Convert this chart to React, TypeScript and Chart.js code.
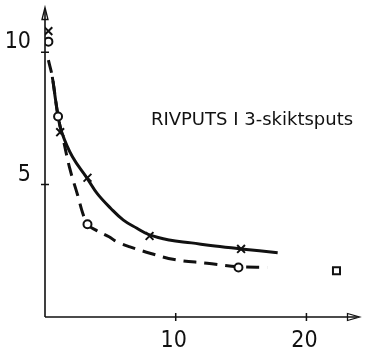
import React, { useEffect, useRef } from "react";
import { Chart, registerables } from "chart.js";

Chart.register(...registerables);

const xTicks = [10, 20];
const yTicks = [5, 10];

const solidX = [0.56, 1.0, 1.3, 2.1, 3.25, 4.0, 5.04, 6.0, 7.0, 8.0, 9.5, 11.2, 13.0, 15.0, 17.8];
const solidY = [9.07, 7.6, 6.95, 6.05, 5.22, 4.66, 4.1, 3.66, 3.36, 3.1, 2.91, 2.8, 2.68, 2.57, 2.43];

const dashX = [0.26, 0.56, 1.0, 1.4, 1.9, 2.5, 2.9, 3.25, 3.9, 4.9, 5.5, 6.5, 8.1, 9.9, 12.4, 14.8, 17.0];
const dashY = [9.7, 9.07, 7.57, 6.7, 5.6, 4.6, 3.9, 3.5, 3.28, 3.03, 2.84, 2.65, 2.4, 2.17, 2.03, 1.9, 1.87];

const crossX = [0.26, 1.16, 3.25, 8.0, 15.0];
const crossY = [10.8, 6.98, 5.26, 3.06, 2.57];

const circleX = [0.26, 1.0, 3.25, 14.8];
const circleY = [10.4, 7.57, 3.5, 1.87];

const squareX = [22.3];
const squareY = [1.75];

const label = "RIVPUTS I 3-skiktsputs";
const labelX = 8.1;
const labelY = 7.25;

const INK = "#111";

const zip = (xs: number[], ys: number[]) => xs.map((x, i) => ({ x, y: ys[i] }));

const axesPlugin = {
  id: "handAxes",
  afterDraw(chart: any) {
    const { ctx, chartArea } = chart;
    const xs = chart.scales.x;
    const ys = chart.scales.y;
    const ox = chartArea.left;
    const oy = chartArea.bottom;
    ctx.save();
    ctx.strokeStyle = INK;
    ctx.lineWidth = 1.6;
    ctx.beginPath();
    ctx.moveTo(ox, oy);
    ctx.lineTo(chartArea.right - 2, oy);
    ctx.moveTo(ox, oy);
    ctx.lineTo(ox, chartArea.top + 2);
    ctx.stroke();
    // arrows
    ctx.lineWidth = 1.3;
    ctx.beginPath();
    ctx.moveTo(chartArea.right - 12, oy - 3.5);
    ctx.lineTo(chartArea.right, oy);
    ctx.lineTo(chartArea.right - 12, oy + 3.5);
    ctx.closePath();
    ctx.stroke();
    ctx.beginPath();
    ctx.moveTo(ox - 3, chartArea.top + 12);
    ctx.lineTo(ox, chartArea.top);
    ctx.lineTo(ox + 3, chartArea.top + 12);
    ctx.closePath();
    ctx.stroke();
    // tick marks
    ctx.lineWidth = 1.5;
    ctx.beginPath();
    xTicks.forEach((v) => {
      const p = xs.getPixelForValue(v);
      ctx.moveTo(p, oy - 4);
      ctx.lineTo(p, oy + 4);
    });
    yTicks.forEach((v) => {
      const p = ys.getPixelForValue(v);
      ctx.moveTo(ox - 4, p);
      ctx.lineTo(ox + 4, p);
    });
    ctx.stroke();
    // annotation text
    ctx.fillStyle = INK;
    ctx.font = '18px "DejaVu Sans", sans-serif';
    ctx.textAlign = "left";
    ctx.textBaseline = "alphabetic";
    ctx.fillText(label, xs.getPixelForValue(labelX), ys.getPixelForValue(labelY), 204);
    ctx.restore();
  },
};

export default function App() {
  const ref = useRef<HTMLCanvasElement | null>(null);
  useEffect(() => {
    if (!ref.current) return;
    const tickFont = { family: '"DejaVu Sans Condensed", sans-serif', size: 23 };
    const chart = new Chart(ref.current, {
      type: "scatter",
      data: {
        datasets: [
          {
            label: "square",
            data: zip(squareX, squareY),
            pointStyle: "rect",
            pointRadius: 5,
            borderColor: INK,
            backgroundColor: "#fff",
            borderWidth: 2,
            showLine: false,
          },
          {
            label: "circles",
            data: zip(circleX, circleY),
            pointStyle: "circle",
            pointRadius: 4,
            borderColor: INK,
            backgroundColor: "#fff",
            borderWidth: 2,
            showLine: false,
          },
          {
            label: "crosses",
            data: zip(crossX, crossY),
            pointStyle: "crossRot",
            pointRadius: 5.5,
            borderColor: INK,
            backgroundColor: INK,
            borderWidth: 2,
            showLine: false,
          },
          {
            label: "solid",
            data: zip(solidX, solidY),
            showLine: true,
            pointRadius: 0,
            borderColor: INK,
            borderWidth: 3,
            tension: 0.4,
            fill: false,
          },
          {
            label: "dashed",
            data: zip(dashX, dashY),
            showLine: true,
            pointRadius: 0,
            borderColor: INK,
            borderWidth: 3,
            borderDash: [13, 8],
            tension: 0.4,
            fill: false,
          },
        ],
      } as any,
      options: {
        animation: false,
        responsive: false,
        events: [],
        layout: { padding: { left: 0, right: 2, top: 5, bottom: 0 } },
        plugins: { legend: { display: false }, tooltip: { enabled: false }, title: { display: false } },
        scales: {
          x: {
            type: "linear",
            min: 0,
            max: 24.06,
            grid: { display: false, drawTicks: false },
            border: { display: false },
            afterBuildTicks: (s: any) => {
              s.ticks = xTicks.map((value) => ({ value }));
            },
            afterFit: (s: any) => {
              s.height = 38;
              s.paddingLeft = 0;
              s.paddingRight = 0;
            },
            ticks: { color: INK, font: tickFont, padding: 10, maxRotation: 0, labelOffset: -2 },
          },
          y: {
            type: "linear",
            min: 0,
            max: 11.69,
            grid: { display: false, drawTicks: false },
            border: { display: false },
            afterBuildTicks: (s: any) => {
              s.ticks = yTicks.map((value) => ({ value }));
            },
            afterFit: (s: any) => {
              s.width = 45;
              s.paddingTop = 0;
              s.paddingBottom = 0;
            },
            ticks: { color: INK, font: tickFont, padding: 14, labelOffset: -10 },
          },
        },
      } as any,
      plugins: [axesPlugin],
    });
    return () => chart.destroy();
  }, []);
  return (
    <div style={{ position: "fixed", left: 0, top: 0, width: 367, height: 355, background: "#fff" }}>
      <canvas ref={ref} width={367} height={355} style={{ width: 367, height: 355, display: "block" }} />
    </div>
  );
}
